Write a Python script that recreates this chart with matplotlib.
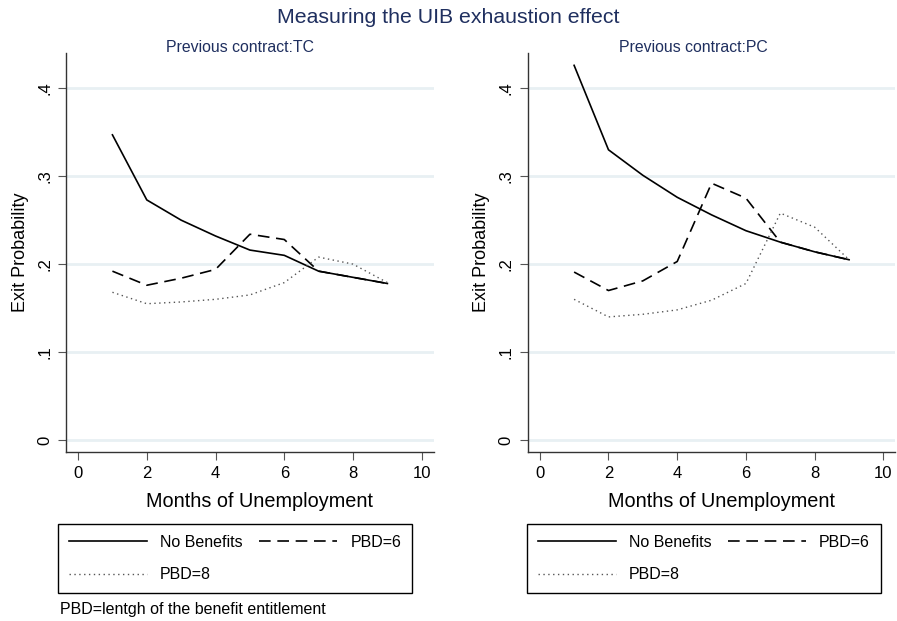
import matplotlib.pyplot as plt

plt.rcParams['font.family'] = ['Liberation Sans', 'DejaVu Sans']

months = [1, 2, 3, 4, 5, 6, 7, 8, 9]

# Previous contract: TC
tc_none = [0.347, 0.273, 0.250, 0.232, 0.216, 0.210, 0.192, 0.185, 0.178]
tc_pbd6 = [0.192, 0.176, 0.184, 0.194, 0.234, 0.228, 0.192, 0.185, 0.178]
tc_pbd8 = [0.168, 0.155, 0.157, 0.160, 0.165, 0.179, 0.208, 0.200, 0.179]

# Previous contract: PC
pc_none = [0.426, 0.330, 0.301, 0.276, 0.256, 0.238, 0.225, 0.214, 0.205]
pc_pbd6 = [0.191, 0.170, 0.181, 0.203, 0.292, 0.275, 0.225, 0.214, 0.205]
pc_pbd8 = [0.160, 0.140, 0.143, 0.148, 0.159, 0.178, 0.258, 0.242, 0.205]

panels = [
    ('Previous contract:TC', tc_none, tc_pbd6, tc_pbd8),
    ('Previous contract:PC', pc_none, pc_pbd6, pc_pbd8),
]
navy = '#1f2f5f'

fig = plt.figure(figsize=(8.97, 6.21), dpi=100)
fig.text(0.5, 0.972, 'Measuring the UIB exhaustion effect', ha='center', va='center',
         fontsize=15.3, color=navy)

lefts = [0.0736, 0.5883]
sub_x = [0.268, 0.773]
leg_lefts = [0.0647, 0.5872]
for i, (title, none, p6, p8) in enumerate(panels):
    ax = fig.add_axes([lefts[i], 0.2721, 0.410, 0.6425])
    l1, = ax.plot(months, none, color='black', lw=1.2, ls='-')
    l2, = ax.plot(months, p6, color='black', lw=1.2, ls=(0, (7, 4)))
    l3, = ax.plot(months, p8, color='#555555', lw=1.0, ls=(0, (1, 2.5)))

    ax.set_xlim(-0.35, 10.35)
    ax.set_ylim(-0.0136, 0.44)
    ax.set_xticks([0, 2, 4, 6, 8, 10])
    ax.set_yticks([0, 0.1, 0.2, 0.3, 0.4])
    ax.set_yticklabels(['0', '.1', '.2', '.3', '.4'], rotation=90, va='center')
    ax.grid(axis='y', color='#e8f0f3', lw=2)
    ax.set_axisbelow(True)
    for s in ['top', 'right']:
        ax.spines[s].set_visible(False)
    for s in ['left', 'bottom']:
        ax.spines[s].set_color('#333333')
        ax.spines[s].set_linewidth(1.0)
    ax.tick_params(length=6, color='#555555', labelsize=12, pad=4)
    ax.set_xlabel('Months of Unemployment', fontsize=14.3)
    ax.xaxis.set_label_coords(0.527, -0.099)
    ax.set_ylabel('Exit Probability', fontsize=13, labelpad=6)
    fig.text(sub_x[i], 0.924, title, ha='center', va='center', fontsize=11.4, color=navy)

    leg = fig.legend([l1, l3, l2], ['No Benefits', 'PBD=8', 'PBD=6'], ncol=2,
                     loc='lower left', bbox_to_anchor=(leg_lefts[i], 0.0451, 0.3946, 0.111),
                     mode='expand', borderaxespad=0, fontsize=11.5, handlelength=4.9,
                     handletextpad=0.8, fancybox=False, edgecolor='black', framealpha=1,
                     borderpad=0.68, labelspacing=1.1, columnspacing=1.5)
    leg.get_frame().set_linewidth(1.0)

fig.text(0.067, 0.018, 'PBD=lentgh of the benefit entitlement', fontsize=11.5, va='center')

fig.savefig('out.png', dpi=100)
